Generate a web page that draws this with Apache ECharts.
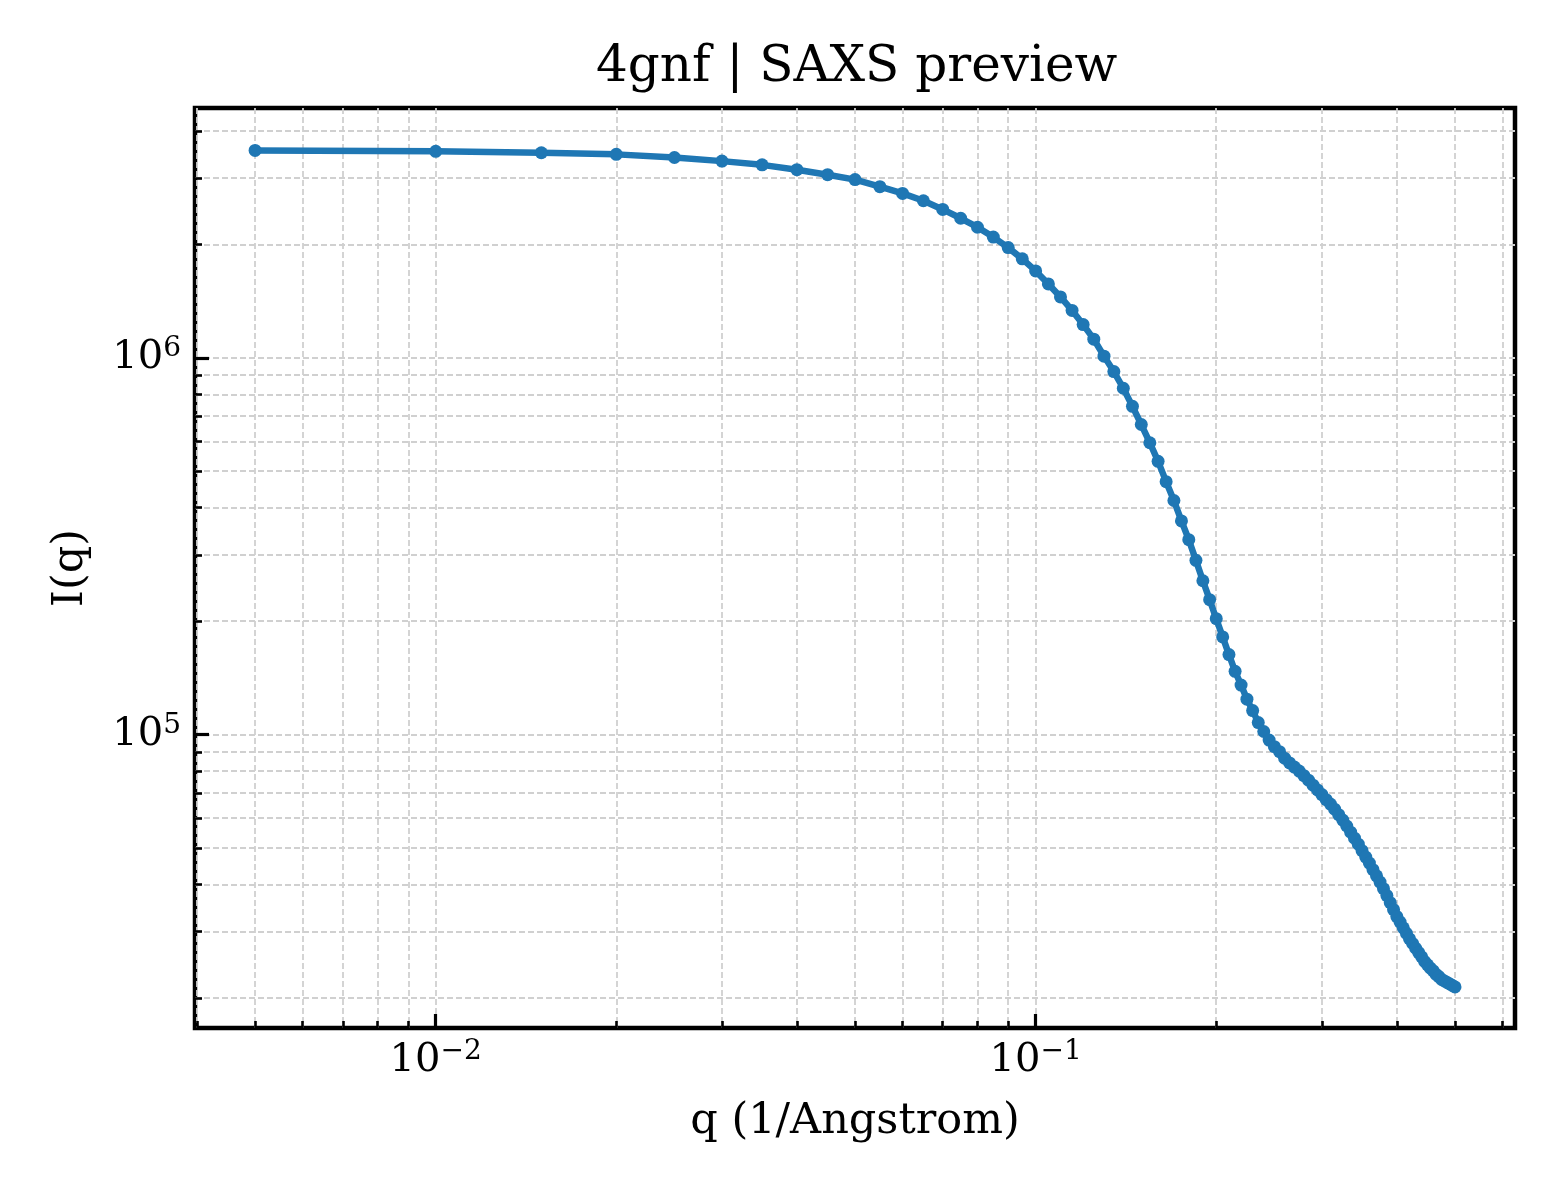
<!DOCTYPE html>
<html>
<head>
<meta charset="utf-8">
<title>4gnf | SAXS preview</title>
<script src="https://cdn.jsdelivr.net/npm/echarts@6/dist/echarts.min.js"></script>
<style>
  html, body { margin: 0; padding: 0; background: #fff; }
  #main { width: 1560px; height: 1200px; }
</style>
</head>
<body>
<div id="main"></div>
<script>
// q values (1/Angstrom)
var qValues = [
  0.005, 0.010, 0.015, 0.020, 0.025, 0.030, 0.035, 0.040, 0.045, 0.050,
  0.055, 0.060, 0.065, 0.070, 0.075, 0.080, 0.085, 0.090, 0.095, 0.100,
  0.105, 0.110, 0.115, 0.120, 0.125, 0.130, 0.135, 0.140, 0.145, 0.150,
  0.155, 0.160, 0.165, 0.170, 0.175, 0.180, 0.185, 0.190, 0.195, 0.200,
  0.205, 0.210, 0.215, 0.220, 0.225, 0.230, 0.235, 0.240, 0.245, 0.250,
  0.255, 0.260, 0.265, 0.270, 0.275, 0.280, 0.285, 0.290, 0.295, 0.300,
  0.305, 0.310, 0.315, 0.320, 0.325, 0.330, 0.335, 0.340, 0.345, 0.350,
  0.355, 0.360, 0.365, 0.370, 0.375, 0.380, 0.385, 0.390, 0.395, 0.400,
  0.405, 0.410, 0.415, 0.420, 0.425, 0.430, 0.435, 0.440, 0.445, 0.450,
  0.455, 0.460, 0.465, 0.470, 0.475, 0.480, 0.485, 0.490, 0.495, 0.500
];
// I(q)
var intensity = [
  3.55e6, 3.53e6, 3.50e6, 3.465e6, 3.40e6, 3.325e6, 3.25e6, 3.155e6, 3.06e6, 2.97e6,
  2.845e6, 2.73e6, 2.61e6, 2.475e6, 2.345e6, 2.22e6, 2.09e6, 1.96e6, 1.83e6, 1.70e6,
  1.57e6, 1.45e6, 1.335e6, 1.225e6, 1.12e6, 1.01e6, 9.19e5, 8.30e5, 7.43e5, 6.65e5,
  5.95e5, 5.31e5, 4.69e5, 4.18e5, 3.69e5, 3.29e5, 2.90e5, 2.56e5, 2.28e5, 2.03e5,
  1.816e5, 1.631e5, 1.472e5, 1.353e5, 1.242e5, 1.158e5, 1.076e5, 1.019e5, 9.67e4, 9.29e4,
  9.01e4, 8.66e4, 8.41e4, 8.20e4, 8.00e4, 7.78e4, 7.57e4, 7.34e4, 7.13e4, 6.93e4,
  6.72e4, 6.54e4, 6.34e4, 6.13e4, 5.93e4, 5.72e4, 5.51e4, 5.31e4, 5.12e4, 4.92e4,
  4.73e4, 4.56e4, 4.38e4, 4.22e4, 4.06e4, 3.90e4, 3.74e4, 3.58e4, 3.43e4, 3.29e4,
  3.18e4, 3.07e4, 2.97e4, 2.87e4, 2.79e4, 2.71e4, 2.64e4, 2.57e4, 2.50e4, 2.45e4,
  2.40e4, 2.36e4, 2.31e4, 2.28e4, 2.24e4, 2.22e4, 2.20e4, 2.18e4, 2.16e4, 2.14e4
];

// tick positions
var xMajorTicks = [0.01, 0.1];
var xMinorTicks = [0.004, 0.005, 0.006, 0.007, 0.008, 0.009,
                   0.02, 0.03, 0.04, 0.05, 0.06, 0.07, 0.08, 0.09,
                   0.2, 0.3, 0.4, 0.5, 0.6];
var yMajorTicks = [1e5, 1e6];
var yMinorTicks = [2e4, 3e4, 4e4, 5e4, 6e4, 7e4, 8e4, 9e4,
                   2e5, 3e5, 4e5, 5e5, 6e5, 7e5, 8e5, 9e5,
                   2e6, 3e6, 4e6];

var xRange = [0.00397, 0.6295];
var yRange = [1.665e4, 4.6e6];

var FONT = "'DejaVu Serif', serif";

function powLabel(v) {
  var e = Math.round(Math.log(v) / Math.LN10);
  var s = e < 0 ? '\u2212' + (-e) : String(e);
  return '{b|10}{s|' + s + '}';
}
var supRich = {
  b: { fontFamily: FONT, fontSize: 40, lineHeight: 46, color: '#000' },
  s: { fontFamily: FONT, fontSize: 28, lineHeight: 22, verticalAlign: 'top', color: '#000' }
};

var gridStyle = { show: true, lineStyle: { color: '#d0d0d0', width: 1.8, type: [6, 3] } };

function majorAxis(range, ticks, extra) {
  var a = {
    type: 'log', logBase: 10, min: range[0], max: range[1],
    axisLine: { show: false },
    axisTick: { show: true, inside: true, length: 14, customValues: ticks,
                lineStyle: { color: '#000', width: 3.2 } },
    axisLabel: { show: true, customValues: ticks, formatter: powLabel, rich: supRich },
    splitLine: gridStyle,
    minorTick: { show: false }, minorSplitLine: { show: false }
  };
  for (var k in extra) a[k] = extra[k];
  return a;
}
function minorAxis(range, ticks, pos) {
  return {
    type: 'log', logBase: 10, min: range[0], max: range[1], position: pos,
    axisLine: { show: false },
    axisTick: { show: true, inside: true, length: 7, customValues: ticks,
                lineStyle: { color: '#000', width: 2.6 } },
    axisLabel: { show: false, customValues: ticks },
    splitLine: gridStyle
  };
}

var myChart = echarts.init(document.getElementById('main'), null, { renderer: 'canvas' });

var option = {
  backgroundColor: '#fff',
  animation: false,
  title: {
    text: '4gnf | SAXS preview',
    left: 596, top: 43, padding: 0,
    textStyle: { fontFamily: FONT, fontSize: 50, fontWeight: 'normal', color: '#000' }
  },
  grid: {
    left: 195, top: 108, width: 1320, height: 920,
    show: true, borderColor: '#000', borderWidth: 4.5, backgroundColor: 'transparent'
  },
  xAxis: [
    majorAxis(xRange, xMajorTicks, {
      position: 'bottom',
      name: 'q (1/Angstrom)', nameLocation: 'middle', nameGap: 72,
      nameTextStyle: { fontFamily: FONT, fontSize: 43, color: '#000' },
      axisLabel: { show: true, customValues: xMajorTicks, formatter: powLabel, rich: supRich, margin: 10 }
    }),
    minorAxis(xRange, xMinorTicks, 'bottom')
  ],
  yAxis: [
    majorAxis(yRange, yMajorTicks, {
      position: 'left',
      name: 'I(q)', nameLocation: 'middle', nameGap: 103,
      nameTextStyle: { fontFamily: FONT, fontSize: 43, color: '#000' },
      axisLabel: { show: true, customValues: yMajorTicks, formatter: powLabel, rich: supRich, margin: 14 }
    }),
    minorAxis(yRange, yMinorTicks, 'left')
  ],
  series: [{
    name: 'I(q)',
    type: 'line',
    xAxisIndex: 0, yAxisIndex: 0,
    data: qValues.map(function (q, i) { return [q, intensity[i]]; }),
    symbol: 'circle', symbolSize: 13, showSymbol: true,
    lineStyle: { color: '#1f77b4', width: 6.5 },
    itemStyle: { color: '#1f77b4' },
    z: 5
  }]
};
myChart.setOption(option);
</script>
</body>
</html>
